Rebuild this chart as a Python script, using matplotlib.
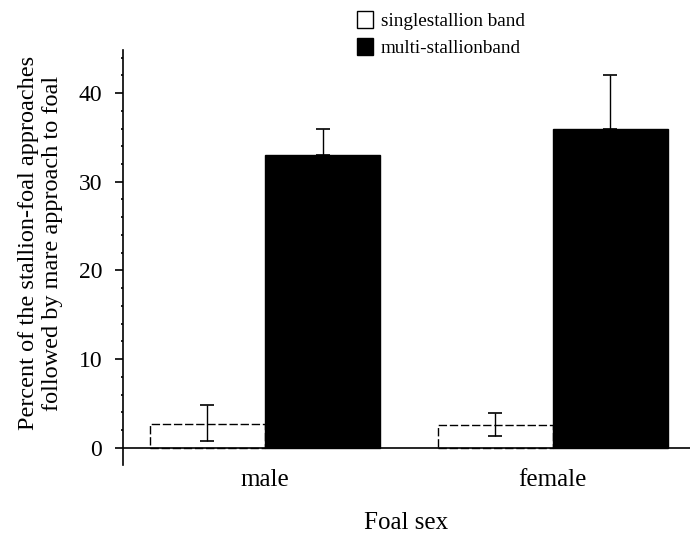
import matplotlib
matplotlib.use("Agg")
import matplotlib.pyplot as plt
from matplotlib.patches import Patch
from matplotlib.ticker import MultipleLocator

categories = ["male", "female"]
single_vals = [2.7, 2.6]
single_lo = [0.8, 1.3]
single_hi = [4.8, 3.9]
multi_vals = [33.0, 36.0]
multi_hi = [36.0, 42.0]

plt.rcParams['font.family'] = ['Liberation Serif', 'DejaVu Serif']

fig = plt.figure(figsize=(6.93, 5.35), dpi=100)
ax = fig.add_axes([0.1775, 0.131, 0.818, 0.7755])

w = 0.40
x = list(range(len(categories)))
xs = [i - w / 2 for i in x]
xm = [i + w / 2 for i in x]

ax.bar(xs, single_vals, width=w, color='white', edgecolor='black',
       linewidth=1.0, linestyle=(0, (6, 2)), zorder=2)
ax.bar(xm, multi_vals, width=w, color='black', edgecolor='black',
       linewidth=1.0, zorder=3)

yerr_s = [[v - lo for v, lo in zip(single_vals, single_lo)],
          [hi - v for v, hi in zip(single_vals, single_hi)]]
ax.errorbar(xs, single_vals, yerr=yerr_s, fmt='none', ecolor='black',
            elinewidth=1.0, capsize=5, capthick=1.2, zorder=4)
yerr_m = [[0, 0], [hi - v for v, hi in zip(multi_vals, multi_hi)]]
ax.errorbar(xm, multi_vals, yerr=yerr_m, fmt='none', ecolor='black',
            elinewidth=1.0, capsize=5, capthick=1.2, zorder=1)

ax.set_xlim(-0.493, 1.476)
ax.set_ylim(-1.92, 44.85)
ax.axhline(0, color='black', linewidth=1.2, zorder=5)

for s in ['top', 'right', 'bottom']:
    ax.spines[s].set_visible(False)
ax.spines['left'].set_linewidth(1.2)

ax.yaxis.set_major_locator(MultipleLocator(10))
ax.yaxis.set_minor_locator(MultipleLocator(2))
ax.tick_params(axis='y', which='major', direction='out', length=6, width=1.2,
               labelsize=17, pad=9)
ax.tick_params(axis='y', which='minor', direction='out', length=1.5, width=1.2)
ax.set_xticks(x)
ax.set_xticklabels(categories)
ax.tick_params(axis='x', length=0, labelsize=18, pad=3)

ax.set_ylabel("Percent of the stallion-foal approaches\nfollowed by mare approach to foal",
              fontsize=17.5, linespacing=1.2)
ax.yaxis.set_label_coords(-0.106, 0.535)
ax.set_xlabel("Foal sex", fontsize=18, labelpad=15)

handles = [Patch(facecolor='white', edgecolor='black', linewidth=1.0),
           Patch(facecolor='black', edgecolor='black')]
fig.legend(handles, ["singlestallion band", "multi-stallionband"],
           loc='upper left', bbox_to_anchor=(0.500, 1.0), frameon=False,
           fontsize=13.8, handlelength=0.85, handleheight=1.0,
           handletextpad=0.4, labelspacing=0.45, borderaxespad=0.15)

fig.savefig("out.png", dpi=100)
